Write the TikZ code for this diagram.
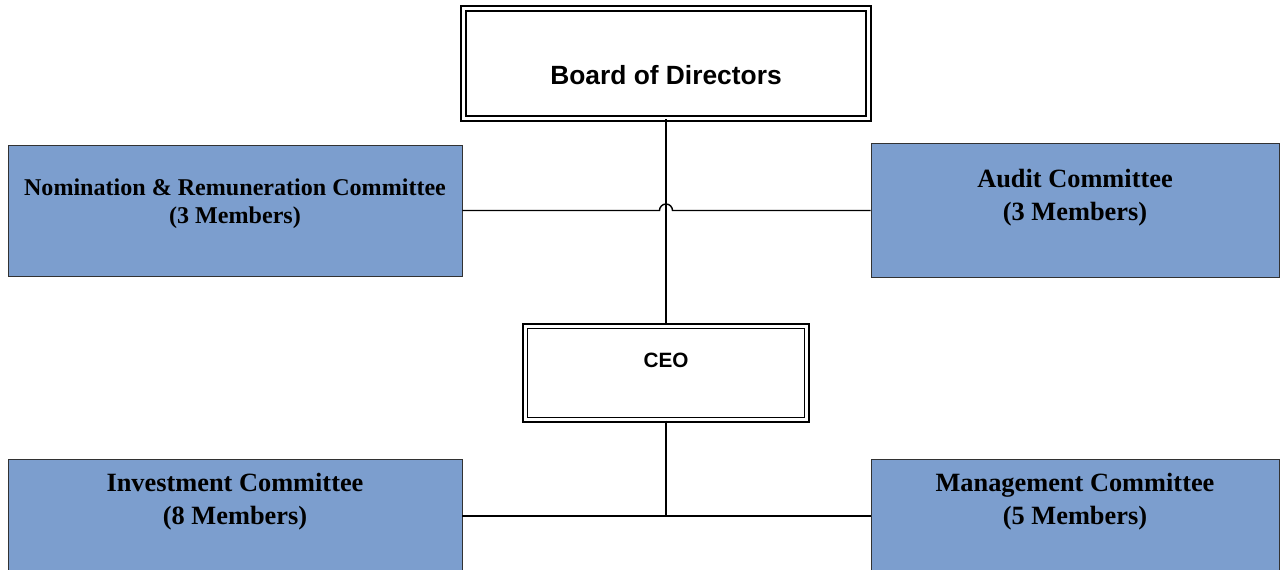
\documentclass[tikz,border=0pt]{standalone}
\usepackage{fontspec}
\setmainfont{Liberation Serif}
\newfontfamily\arialfont{Liberation Sans}
\definecolor{cmtblue}{RGB}{124,158,206}
\definecolor{cmtedge}{RGB}{50,50,50}

\begin{document}
\begin{tikzpicture}[x=0.02cm,y=-0.02cm,
		dblbox/.style={draw,line width=1.05pt,double,double distance=1.5pt,inner sep=0pt},
		cmtbox/.style={draw=cmtedge,fill=cmtblue,line width=0.5pt,inner sep=0pt},
		link/.style={line width=0.8pt}]
		\useasboundingbox (0,0) rectangle (1285,569);
		\clip (0,0) rectangle (1285,569);
		\node[dblbox,minimum width=8.1cm,minimum height=2.2cm] (board) at (666,63.5) {};
		\node[font=\arialfont\bfseries\fontsize{15}{18}\selectfont] (boardtxt) at (666,75) {Board of Directors};
		\node[dblbox,minimum width=5.63cm,minimum height=1.87cm] (ceo) at (666,373) {};
		\node[font=\arialfont\bfseries\fontsize{11.8}{14}\selectfont] (ceotxt) at (666,360) {CEO};
		\node[cmtbox,minimum width=9.08cm,minimum height=2.62cm] (nrc) at (235,210.5) {};
		\node[font=\bfseries\fontsize{13.7}{15.9}\selectfont,align=center] (nrctxt) at (235,204) {Nomination \& Remuneration Committee\\(3 Members)};
		\node[cmtbox,minimum width=8.16cm,minimum height=2.68cm] (audit) at (1075,210) {};
		\node[font=\bfseries\fontsize{15}{18.8}\selectfont,align=center] (audittxt) at (1075,198) {Audit Committee\\(3 Members)};
		\node[cmtbox,minimum width=9.08cm,minimum height=2.62cm] (inv) at (235,524.5) {};
		\node[font=\bfseries\fontsize{15}{18.8}\selectfont,align=center] (invtxt) at (235,502) {Investment Committee\\(8 Members)};
		\node[cmtbox,minimum width=8.16cm,minimum height=2.68cm] (mgmt) at (1075,526) {};
		\node[font=\bfseries\fontsize{15}{18.8}\selectfont,align=center] (mgmttxt) at (1075,502) {Management Committee\\(5 Members)};
		\coordinate (hop) at (666,210.5);
		\coordinate (lowjoin) at (666,516);
		\draw[link] (board.south) -- (ceo.north);
		\draw[link] (nrc.east |- hop) -- ([xshift=-0.13cm]hop) arc (180:0:0.13cm) -- (audit.west |- hop);
		\draw[link] (ceo.south) -- (lowjoin);
		\draw[link] (inv.east |- lowjoin) -- (mgmt.west |- lowjoin);
	\end{tikzpicture}
\end{document}
